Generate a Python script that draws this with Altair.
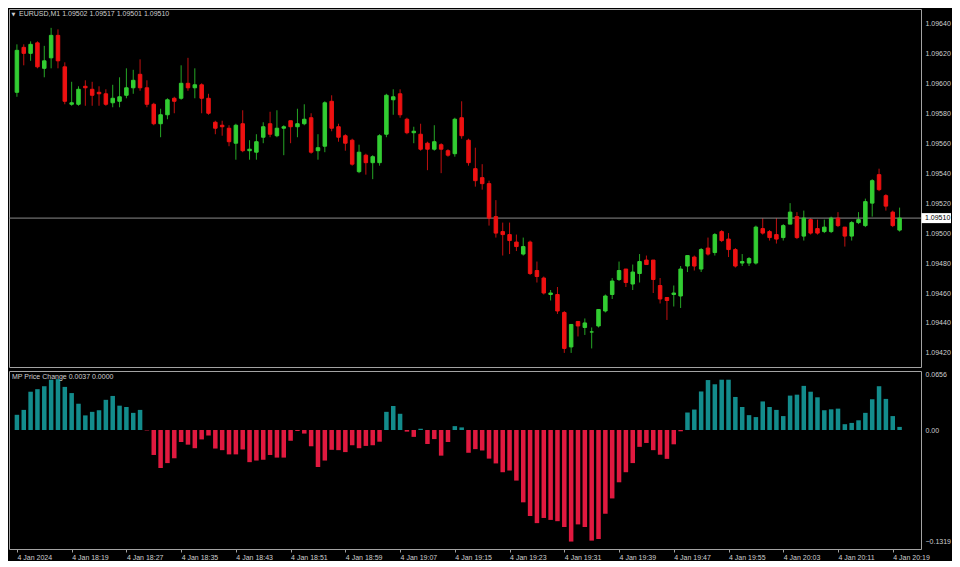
import altair as alt
import pandas as pd
import numpy as np

# ---------------- data ----------------
opens = [1.09594, 1.09624, 1.09620, 1.09627, 1.09610, 1.09617, 1.09632, 1.09611, 1.09586, 1.09586,
         1.09598, 1.09596, 1.09594, 1.09593, 1.09587, 1.09588, 1.09592, 1.09597, 1.09606, 1.09597,
         1.09586, 1.09573, 1.09579, 1.09590, 1.09590, 1.09600, 1.09597, 1.09599, 1.09590, 1.09574,
         1.09572, 1.09570, 1.09560, 1.09573, 1.09555, 1.09554, 1.09564, 1.09573, 1.09565, 1.09570,
         1.09575, 1.09571, 1.09573, 1.09577, 1.09555, 1.09558, 1.09588, 1.09571, 1.09565, 1.09562,
         1.09541, 1.09552, 1.09547, 1.09547, 1.09566, 1.09589, 1.09593, 1.09576, 1.09567, 1.09566,
         1.09560, 1.09556, 1.09559, 1.09555, 1.09553, 1.09577, 1.09562, 1.09543, 1.09537, 1.09533,
         1.09511, 1.09501, 1.09499, 1.09494, 1.09486, 1.09494, 1.09475, 1.09470, 1.09459, 1.09459,
         1.09447, 1.09424, 1.09441, 1.09437, 1.09434, 1.09438, 1.09448, 1.09459, 1.09469, 1.09476,
         1.09466, 1.09473, 1.09482, 1.09482, 1.09465, 1.09457, 1.09459, 1.09458, 1.09478, 1.09484,
         1.09476, 1.09490, 1.09487, 1.09501, 1.09496, 1.09489, 1.09480, 1.09480, 1.09480, 1.09503,
         1.09501, 1.09499, 1.09497, 1.09506, 1.09511, 1.09498, 1.09509, 1.09503, 1.09501, 1.09501,
         1.09510, 1.09504, 1.09498, 1.09507, 1.09505, 1.09520, 1.09539, 1.09525, 1.09514, 1.09502]

highs = [1.09626, 1.09626, 1.09628, 1.09628, 1.09625, 1.09637, 1.09636, 1.09614, 1.09601, 1.09598,
         1.09602, 1.09601, 1.09598, 1.09596, 1.09599, 1.09604, 1.09610, 1.09609, 1.09616, 1.09602,
         1.09587, 1.09583, 1.09590, 1.09591, 1.09612, 1.09617, 1.09610, 1.09600, 1.09593, 1.09575,
         1.09575, 1.09572, 1.09573, 1.09582, 1.09562, 1.09566, 1.09574, 1.09581, 1.09582, 1.09572,
         1.09575, 1.09583, 1.09586, 1.09580, 1.09566, 1.09588, 1.09592, 1.09573, 1.09566, 1.09563,
         1.09559, 1.09553, 1.09552, 1.09566, 1.09593, 1.09596, 1.09596, 1.09577, 1.09571, 1.09573,
         1.09561, 1.09572, 1.09560, 1.09556, 1.09577, 1.09588, 1.09563, 1.09557, 1.09546, 1.09535,
         1.09522, 1.09507, 1.09507, 1.09499, 1.09497, 1.09495, 1.09481, 1.09471, 1.09462, 1.09464,
         1.09448, 1.09439, 1.09441, 1.09443, 1.09437, 1.09449, 1.09459, 1.09470, 1.09481, 1.09476,
         1.09479, 1.09486, 1.09485, 1.09482, 1.09470, 1.09457, 1.09465, 1.09478, 1.09485, 1.09485,
         1.09490, 1.09497, 1.09500, 1.09502, 1.09500, 1.09490, 1.09486, 1.09484, 1.09505, 1.09510,
         1.09502, 1.09510, 1.09506, 1.09520, 1.09514, 1.09515, 1.09510, 1.09509, 1.09509, 1.09511,
         1.09514, 1.09504, 1.09508, 1.09514, 1.09523, 1.09536, 1.09543, 1.09526, 1.09515, 1.09517]

lows = [1.09591, 1.09612, 1.09615, 1.09610, 1.09604, 1.09610, 1.09610, 1.09586, 1.09585, 1.09585,
        1.09585, 1.09585, 1.09585, 1.09585, 1.09584, 1.09584, 1.09590, 1.09593, 1.09595, 1.09584,
        1.09572, 1.09564, 1.09576, 1.09580, 1.09589, 1.09595, 1.09590, 1.09580, 1.09579, 1.09566,
        1.09565, 1.09558, 1.09549, 1.09554, 1.09549, 1.09549, 1.09560, 1.09564, 1.09564, 1.09552,
        1.09560, 1.09564, 1.09572, 1.09553, 1.09549, 1.09554, 1.09568, 1.09561, 1.09555, 1.09545,
        1.09540, 1.09539, 1.09536, 1.09545, 1.09564, 1.09579, 1.09577, 1.09566, 1.09560, 1.09555,
        1.09542, 1.09555, 1.09540, 1.09551, 1.09551, 1.09563, 1.09545, 1.09531, 1.09529, 1.09505,
        1.09497, 1.09485, 1.09486, 1.09488, 1.09485, 1.09472, 1.09467, 1.09459, 1.09455, 1.09446,
        1.09420, 1.09420, 1.09431, 1.09432, 1.09423, 1.09437, 1.09447, 1.09456, 1.09468, 1.09464,
        1.09462, 1.09467, 1.09479, 1.09460, 1.09453, 1.09442, 1.09451, 1.09450, 1.09474, 1.09475,
        1.09474, 1.09485, 1.09485, 1.09494, 1.09484, 1.09477, 1.09478, 1.09478, 1.09479, 1.09499,
        1.09495, 1.09493, 1.09495, 1.09506, 1.09496, 1.09495, 1.09499, 1.09499, 1.09500, 1.09500,
        1.09504, 1.09491, 1.09495, 1.09506, 1.09504, 1.09511, 1.09528, 1.09515, 1.09504, 1.09501]

closes = [1.09622, 1.09620, 1.09626, 1.09611, 1.09615, 1.09632, 1.09615, 1.09588, 1.09587, 1.09596,
          1.09597, 1.09592, 1.09593, 1.09586, 1.09590, 1.09591, 1.09597, 1.09602, 1.09597, 1.09586,
          1.09573, 1.09579, 1.09589, 1.09588, 1.09600, 1.09597, 1.09599, 1.09590, 1.09580, 1.09570,
          1.09571, 1.09561, 1.09572, 1.09555, 1.09556, 1.09561, 1.09571, 1.09566, 1.09570, 1.09571,
          1.09571, 1.09573, 1.09576, 1.09554, 1.09557, 1.09587, 1.09570, 1.09564, 1.09560, 1.09546,
          1.09554, 1.09547, 1.09551, 1.09565, 1.09592, 1.09591, 1.09579, 1.09567, 1.09568, 1.09556,
          1.09556, 1.09561, 1.09556, 1.09552, 1.09576, 1.09565, 1.09547, 1.09535, 1.09533, 1.09510,
          1.09500, 1.09499, 1.09495, 1.09491, 1.09491, 1.09473, 1.09471, 1.09460, 1.09460, 1.09448,
          1.09423, 1.09439, 1.09438, 1.09440, 1.09434, 1.09449, 1.09458, 1.09468, 1.09475, 1.09467,
          1.09474, 1.09481, 1.09479, 1.09469, 1.09456, 1.09455, 1.09460, 1.09476, 1.09485, 1.09478,
          1.09489, 1.09486, 1.09499, 1.09495, 1.09489, 1.09478, 1.09481, 1.09483, 1.09504, 1.09500,
          1.09497, 1.09496, 1.09505, 1.09514, 1.09497, 1.09510, 1.09500, 1.09500, 1.09504, 1.09510,
          1.09505, 1.09498, 1.09507, 1.09509, 1.09521, 1.09535, 1.09529, 1.09518, 1.09505, 1.09510]

price_change = [0.0180, 0.0238, 0.0453, 0.0483, 0.0518, 0.0595, 0.0602, 0.0510, 0.0437, 0.0311,
                0.0173, 0.0215, 0.0234, 0.0357, 0.0403, 0.0288, 0.0272, 0.0203, 0.0238, -0.0005,
                -0.0295, -0.0449, -0.0391, -0.0334, -0.0142, -0.0173, -0.0215, -0.0111, -0.0065, -0.0219,
                -0.0238, -0.0288, -0.0288, -0.0230, -0.0380, -0.0361, -0.0353, -0.0295, -0.0326, -0.0326,
                -0.0127, -0.0012, -0.0042, -0.0192, -0.0437, -0.0361, -0.0234, -0.0238, -0.0261, -0.0180,
                -0.0215, -0.0188, -0.0180, -0.0138, 0.0215, 0.0284, 0.0192, -0.0019, -0.0081, 0.0015,
                -0.0165, -0.0107, -0.0303, -0.0142, 0.0046, 0.0031, -0.0269, -0.0226, -0.0242, -0.0338,
                -0.0395, -0.0499, -0.0479, -0.0598, -0.0855, -0.1017, -0.1101, -0.1040, -0.1063, -0.1078,
                -0.1147, -0.1319, -0.1116, -0.1147, -0.1308, -0.1289, -0.0990, -0.0809, -0.0618, -0.0499,
                -0.0391, -0.0199, -0.0153, -0.0238, -0.0292, -0.0341, -0.0169, -0.0015, 0.0207, 0.0242,
                0.0456, 0.0591, 0.0541, 0.0595, 0.0595, 0.0391, 0.0272, 0.0176, 0.0153, 0.0338,
                0.0272, 0.0238, 0.0165, 0.0407, 0.0418, 0.0522, 0.0453, 0.0387, 0.0234, 0.0245,
                0.0253, 0.0069, 0.0084, 0.0115, 0.0203, 0.0364, 0.0518, 0.0368, 0.0165, 0.0037]

time_labels = ["4 Jan 2024", "4 Jan 18:19", "4 Jan 18:27", "4 Jan 18:35", "4 Jan 18:43",
               "4 Jan 18:51", "4 Jan 18:59", "4 Jan 19:07", "4 Jan 19:15", "4 Jan 19:23",
               "4 Jan 19:31", "4 Jan 19:39", "4 Jan 19:47", "4 Jan 19:55", "4 Jan 20:03",
               "4 Jan 20:11", "4 Jan 20:19"]
time_label_step = 8

price_ticks = [1.0942, 1.0944, 1.0946, 1.0948, 1.0950, 1.0952, 1.0954, 1.0956, 1.0958, 1.0960, 1.0962, 1.0964]
hist_ticks = [0.0656, 0.0, -0.1319]

symbol = "EURUSD,M1"
indicator_name = "MP Price Change"
indicator_values = "0.0037 0.0000"

# ---------------- layout / style ----------------
W = 912
H1 = 358
H2 = 178
BG = "#000000"
FG = "#cfcfcf"
BORDER = "#a3a3a3"
UP_BODY, DN_BODY = "#32cd32", "#ee1111"
UP_WICK, DN_WICK = "#25a525", "#c01010"
POS_BAR, NEG_BAR = "#138c8c", "#e0193f"
FONT = "Liberation Sans"

n = len(closes)
df = pd.DataFrame({"i": np.arange(n), "open": opens, "high": highs, "low": lows,
                   "close": closes, "hist": price_change})
df["dir"] = np.where(df["close"] >= df["open"], "up", "down")
df["hdir"] = np.where(df["hist"] >= 0, "pos", "neg")

last = pd.DataFrame({"close": [closes[-1]], "label": [f"{closes[-1]:.5f}"]})
header = pd.DataFrame({"t": [f"{symbol}  {opens[-1]:.5f} {highs[-1]:.5f} {lows[-1]:.5f} {closes[-1]:.5f}"]})
ind_header = pd.DataFrame({"t": [f"{indicator_name} {indicator_values}"]})
tri = pd.DataFrame({"t": ["\u25BC"]})

xs = alt.Scale(domain=[-0.426, 131.4], nice=False, zero=False)
ys = alt.Scale(domain=[1.094106, 1.096496], nice=False, zero=False)
hs = alt.Scale(domain=[-0.1407, 0.0698], nice=False, zero=False)

dir_dom = ["up", "down"]

price_axis = alt.Axis(orient="right", values=price_ticks, format=".5f", labelPadding=4,
                      ticks=False, domain=False, grid=False, labelFont=FONT, labelFontSize=7,
                      labelColor=FG, labelOverlap=False, title=None)


def py(field):
    return alt.Y(field, scale=ys, axis=price_axis, title=None)


wick = alt.Chart(df).mark_rule(strokeWidth=1).encode(
    x=alt.X("i:Q", scale=xs, axis=None),
    y=py("low:Q"),
    y2="high:Q",
    color=alt.Color("dir:N", scale=alt.Scale(domain=dir_dom, range=[UP_WICK, DN_WICK]), legend=None),
)

body = alt.Chart(df).mark_bar(size=3.5, strokeWidth=1).encode(
    x=alt.X("i:Q", scale=xs, axis=None),
    y=py("open:Q"),
    y2="close:Q",
    fill=alt.Fill("dir:N", scale=alt.Scale(domain=dir_dom, range=[UP_BODY, DN_BODY]), legend=None),
    stroke=alt.Stroke("dir:N", scale=alt.Scale(domain=dir_dom, range=[UP_BODY, DN_BODY]), legend=None),
)

price_line = alt.Chart(last).mark_rule(color="#8a8a8a", strokeWidth=1).encode(
    x=alt.value(0), x2=alt.value(W),
    y=py("close:Q"),
)

price_box = alt.Chart(last).mark_rect(color="#ffffff", yOffset=-5, y2Offset=5).encode(
    x=alt.value(W + 0.5), x2=alt.value(W + 30),
    y=py("close:Q"), y2="close:Q",
)

price_box_text = alt.Chart(last).mark_text(font=FONT, fontSize=7, color="#000000",
                                           align="left", baseline="middle").encode(
    x=alt.value(W + 4),
    y=py("close:Q"),
    text="label:N",
)

header_text = alt.Chart(header).mark_text(font=FONT, fontSize=7, color=FG,
                                          align="left", baseline="middle").encode(
    x=alt.value(10), y=alt.value(4.5), text="t:N")

tri_text = alt.Chart(tri).mark_text(font="DejaVu Sans", fontSize=5, color=FG,
                                    align="left", baseline="middle").encode(
    x=alt.value(2.5), y=alt.value(4.5), text="t:N")

top = alt.layer(wick, price_line, body, price_box, price_box_text, header_text, tri_text).properties(
    width=W, height=H1)

label_expr = "[" + ",".join(f"'{t}'" for t in time_labels) + f"][round(datum.value/{time_label_step})]"

time_axis = alt.Axis(values=list(range(0, time_label_step * len(time_labels), time_label_step)),
                     labelExpr=label_expr, labelAlign="left", labelBaseline="top", labelPadding=1,
                     ticks=True, tickSize=3, tickColor=BORDER, domain=False, grid=False,
                     labelFlush=False, labelOverlap=False, labelFont=FONT, labelFontSize=7,
                     labelColor=FG, title=None)

hist_axis = alt.Axis(orient="right", values=hist_ticks,
                     labelExpr="datum.value == 0 ? '0.00' : format(datum.value, '.4f')",
                     labelPadding=4, ticks=False, domain=False, grid=False, labelFont=FONT,
                     labelFontSize=7, labelColor=FG, labelOverlap=False, title=None)

hist_bars = alt.Chart(df).mark_bar(size=4.5).encode(
    x=alt.X("i:Q", scale=xs, axis=time_axis),
    y=alt.Y("hist:Q", scale=hs, axis=hist_axis, title=None),
    y2=alt.datum(0),
    color=alt.Color("hdir:N", scale=alt.Scale(domain=["pos", "neg"], range=[POS_BAR, NEG_BAR]), legend=None),
)

ind_text = alt.Chart(ind_header).mark_text(font=FONT, fontSize=7, color=FG,
                                           align="left", baseline="middle").encode(
    x=alt.value(3), y=alt.value(6), text="t:N")

bottom = alt.layer(hist_bars, ind_text).properties(width=W, height=H2)

chart = alt.vconcat(top, bottom, spacing=2).resolve_scale(
    color="independent", fill="independent", stroke="independent"
).properties(
    background=BG, padding=0
).configure_view(stroke=BORDER, strokeWidth=1).configure_axis(labelOverlap=False)

chart.save("out.html", embed_options={"renderer": "svg", "actions": False})
